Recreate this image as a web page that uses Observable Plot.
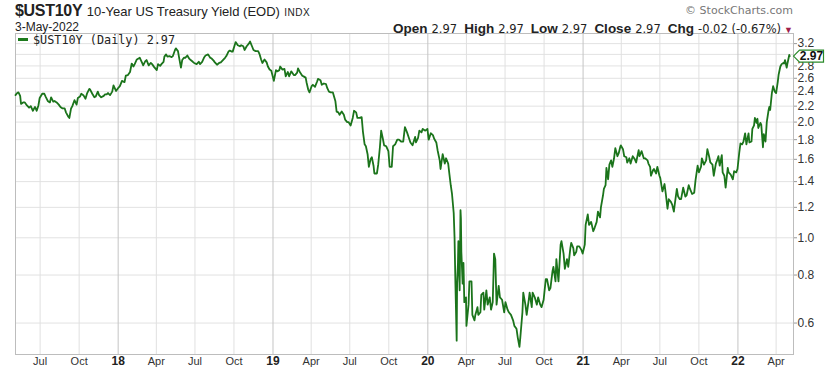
<!DOCTYPE html>
<html><head><meta charset="utf-8">
<script src="https://cdn.jsdelivr.net/npm/d3@7"></script>
<script src="https://cdn.jsdelivr.net/npm/@observablehq/plot@0.6"></script>
<style>
body{margin:0;background:#fff;}
#wrap{position:relative;width:833px;height:375px;overflow:hidden;font-family:"Liberation Sans",Arial,sans-serif;color:#222;}
#chart{position:absolute;left:0;top:0;}
.t{position:absolute;white-space:nowrap;line-height:1;}
.lab{font-weight:bold;font-size:13.5px;margin-left:7px;}
.val{font-family:"DejaVu Sans",Verdana,sans-serif;font-size:11.5px;margin-left:4px;}
</style></head><body>
<div id="wrap">
<div id="chart"></div>
<div class="t" style="left:15px;top:3px;"><span style="font-size:16px;font-weight:bold;letter-spacing:-0.3px">$UST10Y</span> <span style="font-size:13px">10-Year US Treasury Yield (EOD)</span> <span style="font-size:10px;letter-spacing:0.5px">INDX</span></div>
<div class="t" style="left:15px;top:21px;font-size:12px;">3-May-2022</div>
<div class="t" style="right:40px;top:5px;font-size:11px;color:#777;font-family:'DejaVu Sans',Verdana,sans-serif;">© StockCharts.com</div>
<div class="t" id="ohlc" style="right:40px;top:20px;"></div>
<div class="t" style="left:18px;top:35px;font-size:11.8px;font-family:'DejaVu Sans Mono',monospace;color:#222;"><span style="display:inline-block;width:10px;height:3px;background:#1c7a1c;vertical-align:middle;margin-right:5px;position:relative;top:-1px"></span>$UST10Y (Daily) 2.97</div>
</div>
<script>
// ---- data ----
const y2017 = [["05-04",2.35],["05-08",2.38],["05-11",2.39],["05-15",2.34],["05-17",2.23],["05-22",2.25],["05-26",2.25],["05-31",2.21],["06-05",2.18],["06-09",2.20],["06-14",2.14],["06-19",2.19],["06-23",2.14],["06-27",2.21],["06-30",2.31],["07-06",2.37],["07-11",2.37],["07-14",2.33],["07-19",2.27],["07-24",2.25],["07-27",2.32],["08-01",2.26],["08-04",2.27],["08-09",2.25],["08-14",2.22],["08-18",2.19],["08-23",2.17],["08-28",2.17],["08-31",2.12],["09-05",2.07],["09-08",2.05],["09-12",2.17],["09-15",2.20],["09-20",2.28],["09-25",2.22],["09-28",2.31],["10-03",2.33],["10-06",2.37],["10-11",2.35],["10-16",2.30],["10-20",2.38],["10-25",2.44],["10-27",2.43],["11-01",2.37],["11-06",2.32],["11-09",2.33],["11-14",2.40],["11-17",2.35],["11-22",2.32],["11-28",2.34],["12-01",2.36],["12-05",2.36],["12-08",2.38],["12-13",2.35],["12-18",2.40],["12-21",2.49],["12-27",2.41]];
const y2018 = [["01-02",2.46],["01-05",2.48],["01-10",2.56],["01-16",2.54],["01-19",2.64],["01-24",2.65],["01-29",2.70],["02-02",2.84],["02-06",2.79],["02-09",2.83],["02-14",2.91],["02-21",2.94],["02-26",2.86],["03-01",2.81],["03-06",2.88],["03-09",2.90],["03-14",2.81],["03-19",2.85],["03-22",2.83],["03-27",2.78],["04-02",2.73],["04-05",2.83],["04-10",2.80],["04-13",2.83],["04-18",2.87],["04-20",2.96],["04-24",3.00],["04-27",2.96],["05-02",2.97],["05-07",2.95],["05-10",2.97],["05-15",3.08],["05-17",3.11],["05-22",3.06],["05-25",2.93],["05-29",2.77],["06-01",2.90],["06-05",2.94],["06-08",2.94],["06-13",2.98],["06-18",2.92],["06-21",2.90],["06-26",2.87],["06-29",2.85],["07-05",2.83],["07-10",2.87],["07-13",2.83],["07-18",2.87],["07-23",2.95],["07-26",2.98],["08-01",3.00],["08-06",2.94],["08-09",2.93],["08-14",2.89],["08-17",2.86],["08-22",2.82],["08-27",2.85],["08-31",2.86],["09-05",2.90],["09-10",2.94],["09-13",2.97],["09-18",3.05],["09-21",3.07],["09-26",3.05],["09-28",3.05],["10-03",3.18],["10-05",3.23],["10-10",3.17],["10-15",3.15],["10-18",3.17],["10-23",3.15],["10-26",3.08],["10-31",3.15],["11-05",3.20],["11-08",3.24],["11-13",3.14],["11-16",3.08],["11-21",3.06],["11-27",3.06],["11-30",3.01],["12-04",2.91],["12-07",2.85],["12-12",2.91],["12-17",2.86],["12-20",2.79],["12-24",2.74],["12-28",2.72]];
const y2019 = [["01-03",2.56],["01-08",2.73],["01-11",2.71],["01-16",2.73],["01-18",2.79],["01-23",2.74],["01-28",2.75],["01-31",2.63],["02-05",2.70],["02-08",2.63],["02-13",2.71],["02-19",2.65],["02-22",2.65],["02-27",2.69],["03-01",2.76],["03-06",2.69],["03-11",2.64],["03-14",2.63],["03-19",2.61],["03-21",2.54],["03-25",2.43],["03-28",2.39],["04-02",2.48],["04-05",2.50],["04-10",2.47],["04-15",2.55],["04-17",2.59],["04-23",2.57],["04-26",2.50],["05-01",2.52],["05-06",2.51],["05-09",2.45],["05-13",2.40],["05-17",2.39],["05-22",2.39],["05-28",2.27],["05-31",2.13],["06-04",2.12],["06-07",2.09],["06-12",2.13],["06-17",2.09],["06-20",2.03],["06-25",2.00],["06-28",2.00],["07-03",1.96],["07-08",2.05],["07-11",2.14],["07-16",2.12],["07-19",2.05],["07-24",2.05],["07-29",2.06],["08-01",1.89],["08-05",1.75],["08-08",1.73],["08-12",1.65],["08-15",1.53],["08-19",1.60],["08-22",1.62],["08-26",1.54],["08-28",1.47],["09-03",1.47],["09-06",1.55],["09-10",1.72],["09-13",1.90],["09-17",1.81],["09-20",1.74],["09-25",1.73],["09-30",1.68],["10-03",1.53],["10-08",1.53],["10-11",1.73],["10-16",1.75],["10-21",1.80],["10-25",1.80],["10-30",1.78],["11-04",1.78],["11-08",1.94],["11-13",1.88],["11-18",1.81],["11-21",1.77],["11-26",1.74],["12-02",1.83],["12-04",1.77],["12-09",1.82],["12-12",1.90],["12-17",1.88],["12-20",1.92],["12-26",1.90],["12-31",1.92]];
const y2020 = [["01-03",1.80],["01-08",1.87],["01-13",1.85],["01-16",1.81],["01-21",1.77],["01-24",1.69],["01-29",1.59],["01-31",1.51],["02-05",1.65],["02-10",1.56],["02-13",1.61],["02-18",1.56],["02-21",1.46],["02-24",1.37],["02-27",1.30],["03-02",1.16],["03-04",1.00],["03-06",0.76],["03-09",0.54],["03-10",0.76],["03-12",0.86],["03-13",0.98],["03-16",0.73],["03-18",1.18],["03-19",1.12],["03-20",0.92],["03-23",0.76],["03-25",0.86],["03-27",0.68],["03-31",0.70],["04-01",0.59],["04-06",0.67],["04-08",0.77],["04-13",0.77],["04-15",0.63],["04-20",0.61],["04-22",0.63],["04-27",0.66],["04-29",0.63],["05-04",0.64],["05-06",0.71],["05-11",0.72],["05-13",0.65],["05-18",0.73],["05-21",0.67],["05-26",0.70],["05-29",0.65],["06-02",0.68],["06-04",0.82],["06-05",0.91],["06-08",0.88],["06-11",0.67],["06-16",0.75],["06-19",0.70],["06-24",0.69],["06-29",0.64],["07-02",0.68],["07-07",0.65],["07-10",0.64],["07-15",0.63],["07-20",0.61],["07-23",0.59],["07-28",0.58],["07-31",0.55],["08-04",0.52],["08-06",0.55],["08-11",0.64],["08-13",0.72],["08-18",0.67],["08-21",0.63],["08-26",0.69],["08-28",0.72],["09-02",0.66],["09-04",0.72],["09-09",0.70],["09-14",0.67],["09-17",0.70],["09-22",0.67],["09-25",0.66],["09-30",0.69],["10-05",0.78],["10-08",0.78],["10-13",0.73],["10-16",0.74],["10-21",0.82],["10-23",0.84],["10-28",0.77],["10-30",0.88],["11-04",0.77],["11-09",0.96],["11-11",0.98],["11-16",0.91],["11-19",0.83],["11-24",0.88],["11-27",0.84],["12-02",0.94],["12-04",0.97],["12-09",0.94],["12-11",0.90],["12-16",0.92],["12-18",0.95],["12-23",0.95],["12-28",0.93],["12-31",0.91]];
const y2021 = [["01-05",0.96],["01-07",1.08],["01-12",1.15],["01-15",1.08],["01-20",1.10],["01-25",1.04],["01-28",1.06],["02-02",1.10],["02-05",1.17],["02-10",1.13],["02-12",1.20],["02-17",1.29],["02-19",1.34],["02-23",1.37],["02-25",1.52],["03-01",1.42],["03-04",1.55],["03-08",1.59],["03-11",1.53],["03-15",1.61],["03-18",1.71],["03-23",1.63],["03-26",1.66],["03-30",1.73],["03-31",1.74],["04-05",1.70],["04-08",1.63],["04-13",1.62],["04-15",1.57],["04-20",1.61],["04-23",1.56],["04-28",1.63],["05-03",1.60],["05-06",1.57],["05-12",1.69],["05-14",1.63],["05-19",1.68],["05-24",1.61],["05-27",1.61],["06-02",1.59],["06-04",1.56],["06-08",1.53],["06-10",1.45],["06-15",1.50],["06-17",1.51],["06-22",1.47],["06-25",1.53],["06-30",1.45],["07-02",1.43],["07-07",1.32],["07-12",1.38],["07-15",1.30],["07-19",1.19],["07-22",1.26],["07-27",1.24],["07-30",1.22],["08-03",1.17],["08-05",1.22],["08-10",1.34],["08-13",1.28],["08-17",1.26],["08-20",1.26],["08-25",1.35],["08-30",1.28],["09-02",1.29],["09-07",1.37],["09-10",1.34],["09-15",1.30],["09-20",1.31],["09-23",1.41],["09-28",1.54],["10-01",1.48],["10-06",1.53],["10-08",1.61],["10-13",1.55],["10-18",1.59],["10-21",1.70],["10-25",1.63],["10-28",1.57],["11-02",1.55],["11-05",1.45],["11-10",1.56],["11-12",1.58],["11-16",1.63],["11-19",1.54],["11-24",1.64],["11-26",1.48],["11-30",1.45],["12-03",1.35],["12-08",1.52],["12-10",1.48],["12-15",1.46],["12-20",1.42],["12-23",1.49],["12-28",1.48],["12-31",1.51]];
const y2022 = [["01-04",1.66],["01-07",1.76],["01-11",1.75],["01-14",1.78],["01-18",1.87],["01-21",1.75],["01-26",1.87],["01-28",1.77],["02-02",1.78],["02-04",1.92],["02-08",1.96],["02-10",2.05],["02-14",1.99],["02-16",2.04],["02-18",1.93],["02-23",1.99],["02-25",1.97],["03-01",1.72],["03-03",1.86],["03-07",1.78],["03-10",2.00],["03-14",2.14],["03-16",2.19],["03-18",2.15],["03-22",2.38],["03-25",2.48],["03-29",2.40],["04-01",2.38],["04-05",2.55],["04-07",2.66],["04-11",2.79],["04-14",2.83],["04-18",2.85],["04-20",2.84],["04-22",2.90],["04-26",2.77],["04-28",2.85],["05-02",2.99],["05-03",2.97]];

const xTickDates = ["2017-07-01","2017-10-01","2018-01-01","2018-04-01","2018-07-01","2018-10-01","2019-01-01","2019-04-01","2019-07-01","2019-10-01","2020-01-01","2020-04-01","2020-07-01","2020-10-01","2021-01-01","2021-04-01","2021-07-01","2021-10-01","2022-01-01","2022-04-01"];
const xTickLabels = ["Jul","Oct","18","Apr","Jul","Oct","19","Apr","Jul","Oct","20","Apr","Jul","Oct","21","Apr","Jul","Oct","22","Apr"];
const yTicks = [0.6,0.8,1.0,1.2,1.4,1.6,1.8,2.0,2.2,2.4,2.6,2.8,3.2];
const yGrid = [0.6,0.8,1.0,1.2,1.4,1.6,1.8,2.0,2.2,2.4,2.6,2.8,3.0,3.2];
const lastValue = 2.97;
const ohlcLabels = ["Open","High","Low","Close","Chg"];
const ohlcValues = ["2.97","2.97","2.97","2.97","-0.02 (-0.67%)"];

// ---- build ----
const years = [[2017,y2017],[2018,y2018],[2019,y2019],[2020,y2020],[2021,y2021],[2022,y2022]];
const data = years.flatMap(([yr, arr]) => arr.map(([md, v]) => ({date: new Date(`${yr}-${md}T00:00:00Z`), value: v})));
const ticks = xTickDates.map((d, i) => ({date: new Date(d + "T00:00:00Z"), label: xTickLabels[i], year: /^\d+$/.test(xTickLabels[i])}));

document.getElementById("ohlc").innerHTML = ohlcLabels.map((l, i) => `<span class="lab">${l}</span><span class="val">${ohlcValues[i]}</span>`).join("") + `<span style="color:#a0204a;font-size:9px;margin-left:3px">&#9660;</span>`;

const arrowSymbol = {draw(ctx) { ctx.moveTo(0, 0); ctx.lineTo(6, -6); ctx.lineTo(30, -6); ctx.lineTo(30, 6); ctx.lineTo(6, 6); ctx.closePath(); }};

const chart = Plot.plot({
  width: 833, height: 375,
  marginTop: 33, marginBottom: 21, marginLeft: 15, marginRight: 40,
  style: {fontFamily: "'Liberation Sans', Arial, sans-serif", background: "transparent"},
  x: {type: "utc", domain: [new Date("2017-05-04T00:00:00Z"), new Date("2022-05-12T00:00:00Z")], axis: null},
  y: {type: "log", domain: [0.497, 3.40], axis: null},
  marks: [
    Plot.ruleY(yGrid, {stroke: "#e2e2e2", strokeWidth: 1}),
    Plot.ruleX(ticks.filter(d => !d.year), {x: "date", stroke: "#e0e0e0", strokeWidth: 1}),
    Plot.ruleX(ticks.filter(d => d.year), {x: "date", stroke: "#c4c4c4", strokeWidth: 1}),
    Plot.frame({stroke: "#bdbdbd"}),
    Plot.line(data, {x: "date", y: "value", stroke: "#1b741b", strokeWidth: 1.8}),
    Plot.text(ticks.filter(d => !d.year), {x: "date", text: "label", frameAnchor: "bottom", dy: 10, fontSize: 11, fill: "#333"}),
    Plot.text(ticks.filter(d => d.year), {x: "date", text: "label", frameAnchor: "bottom", dy: 10, fontSize: 12, fontWeight: "bold", fill: "#222"}),
    Plot.axisY(yTicks, {anchor: "right", label: null, tickSize: 3, tickPadding: 1, fontSize: 12, tickFormat: d => d.toFixed(1), stroke: "#999", fill: "#333"}),
    Plot.dot([lastValue], {y: d => d, frameAnchor: "right", symbol: arrowSymbol, r: 5, fill: "white", stroke: "#2a8a2a", strokeWidth: 1.2}),
    Plot.text([lastValue], {y: d => d, frameAnchor: "right", dx: 18, textAnchor: "middle", text: d => d.toFixed(2), fontWeight: "bold", fontSize: 12, fill: "#111"})
  ]
});
document.getElementById("chart").appendChild(chart);
</script>
</body></html>
